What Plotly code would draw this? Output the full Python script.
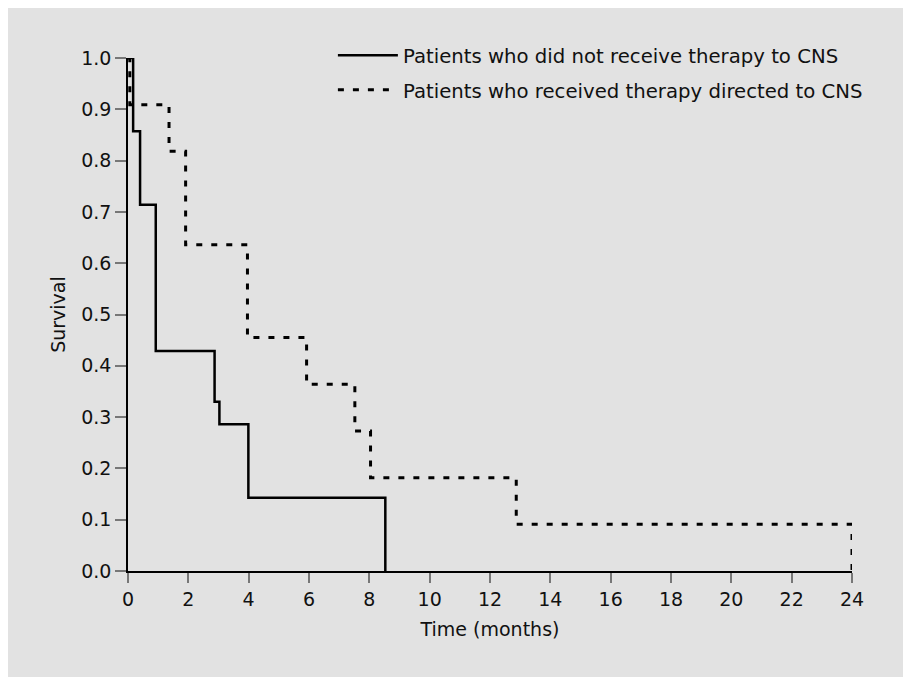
import plotly.graph_objects as go

# Kaplan-Meier style survival data (time in months)
t_no_cns = [0, 0.17, 0.40, 0.92, 2.87, 3.03, 3.99, 8.53]
s_no_cns = [1.0, 0.857, 0.714, 0.429, 0.33, 0.286, 0.143, 0.0]

t_cns = [0, 0.06, 1.36, 1.91, 3.96, 5.92, 7.52, 8.04, 12.87, 24.0]
s_cns = [1.0, 0.909, 0.818, 0.636, 0.455, 0.364, 0.273, 0.182, 0.091, 0.0]

name_no = "Patients who did not receive therapy to CNS"
name_cns = "Patients who received therapy directed to CNS"

x_ticks = list(range(0, 25, 2))
y_ticks = [i / 10 for i in range(11)]

FONT = "DejaVu Sans"
BG = "#e2e2e2"
TXT = "#111111"

fig = go.Figure()
fig.add_trace(go.Scatter(x=t_no_cns, y=s_no_cns, mode="lines", name=name_no,
                         line=dict(color="black", width=2.5, shape="hv"),
                         legendgroup="a"))
fig.add_trace(go.Scatter(x=t_cns, y=s_cns, mode="lines", name=name_cns,
                         line=dict(color="black", width=3, shape="hv", dash="6px,9px"),
                         legendgroup="b"))

fig.update_layout(
    width=898, height=669,
    margin=dict(l=120, r=54, t=50, b=106),
    paper_bgcolor=BG,
    plot_bgcolor=BG,
    font=dict(family=FONT, size=19, color=TXT),
    showlegend=True,
    legend=dict(x=0.283, y=1.043, xanchor="left", yanchor="top",
                bgcolor="rgba(0,0,0,0)", itemwidth=60, tracegroupgap=6,
                font=dict(family=FONT, size=19.7, color=TXT)),
)
fig.update_xaxes(range=[0, 24], tickvals=x_ticks, ticks="outside", ticklen=10,
                 tickcolor="#777777", tickwidth=1.5, showline=True, linecolor="black",
                 linewidth=1.5, showgrid=False, zeroline=False,
                 tickfont=dict(size=19),
                 title=dict(text="Time (months)", standoff=14,
                            font=dict(size=19, family=FONT, color=TXT)))
fig.update_yaxes(range=[0, 1], tickvals=y_ticks, tickformat=".1f", ticks="outside",
                 ticklen=11, tickcolor="#777777", tickwidth=1.5, showline=True,
                 linecolor="black", linewidth=1.5, showgrid=False, zeroline=False,
                 tickfont=dict(size=19),
                 title=dict(text="Survival", standoff=11,
                            font=dict(size=19, family=FONT, color=TXT)))

fig.write_html("out.html")
